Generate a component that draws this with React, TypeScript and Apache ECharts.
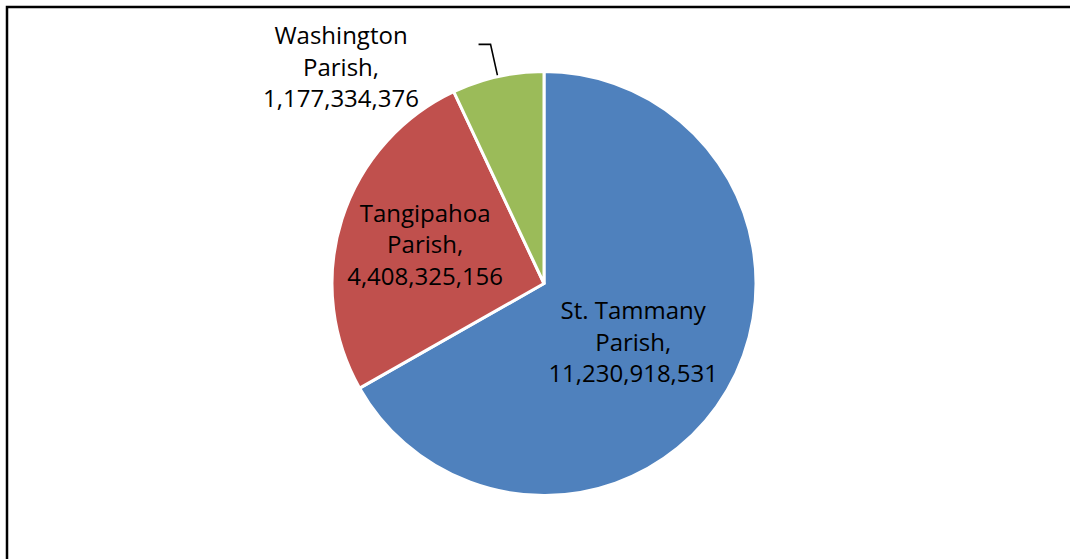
import React, { useEffect, useRef } from "react";
import * as echarts from "echarts";

const categories = ["St. Tammany Parish", "Tangipahoa Parish", "Washington Parish"];
const values = [11230918531, 4408325156, 1177334376];
const colors = ["#4F81BD", "#C0504D", "#9BBB59"];
const labelLines = [
  ["St. Tammany", "Parish,"],
  ["Tangipahoa", "Parish,"],
  ["Washington", "Parish,"],
];

const fmt = (v: number) => v.toLocaleString("en-US");

export default function App() {
  const ref = useRef<HTMLDivElement>(null);
  useEffect(() => {
    if (!ref.current) return;
    const chart = echarts.init(ref.current, null, { renderer: "svg" });
    const font = {
      fontFamily: "'Open Sans', sans-serif",
      fontSize: 24,
      lineHeight: 31.5,
      color: "#000",
    };
    chart.setOption({
      animation: false,
      backgroundColor: "#fff",
      graphic: [
        {
          type: "rect",
          shape: { x: 7, y: 7, width: 1120, height: 620 },
          style: { fill: "none", stroke: "#000", lineWidth: 2.5 },
          z: 10,
        },
      ],
      series: [
        {
          type: "pie",
          center: [544, 283.5],
          radius: [0, 212],
          startAngle: 90,
          clockwise: true,
          avoidLabelOverlap: false,
          itemStyle: { borderColor: "#fff", borderWidth: 3 },
          data: categories.map((name, i) => ({
            name,
            value: values[i],
            itemStyle: { color: colors[i] },
            label:
              i < 2
                ? { show: true, position: "inside", align: "center", ...font }
                : { show: true, position: "outside", align: "center", ...font },
            labelLine:
              i < 2
                ? { show: false }
                : {
                    show: true,
                    length: 33,
                    length2: 12,
                    smooth: false,
                    lineStyle: { color: "#000", width: 1.6 },
                  },
          })),
          label: {
            formatter: (p: any) =>
              [...labelLines[p.dataIndex], fmt(p.value)].join("\n"),
          },
          labelLayout: (p: any) => {
            if (p.dataIndex === 0) return { dx: -5, dy: 3 };
            if (p.dataIndex === 1) return { dx: -15, dy: -7 };
            if (p.dataIndex === 2)
              return {
                x: 341,
                y: 66,
                align: "center",
                verticalAlign: "middle",
                labelLinePoints: p.labelLinePoints,
              };
            return {};
          },
        },
      ],
    });
    return () => chart.dispose();
  }, []);
  return (
    <div
      ref={ref}
      style={{ position: "absolute", left: 0, top: 0, width: 1070, height: 559 }}
    />
  );
}
